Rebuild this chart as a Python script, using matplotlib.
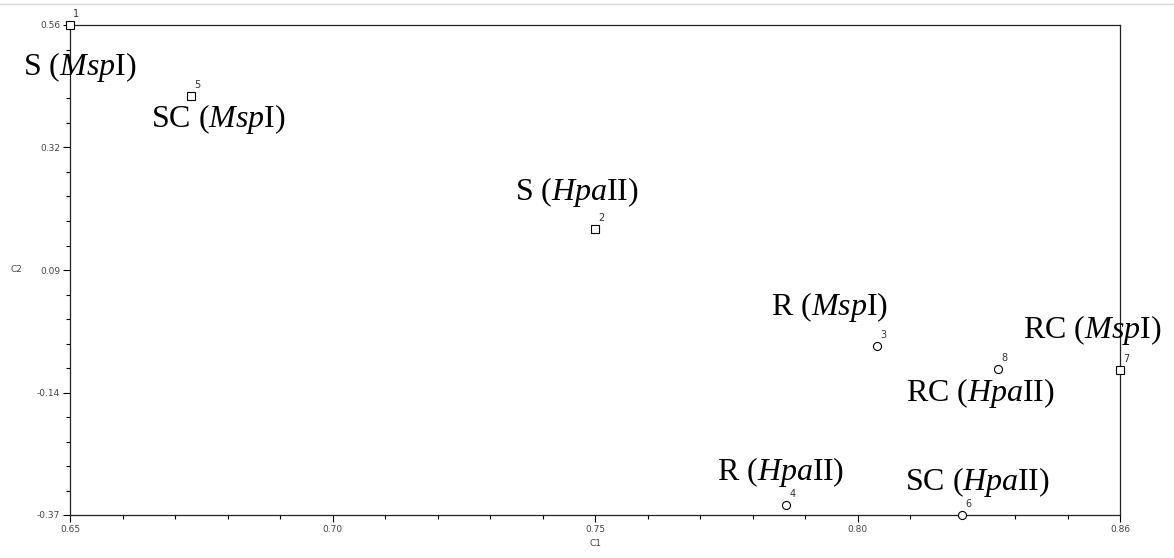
import matplotlib.pyplot as plt
import numpy as np
from matplotlib.ticker import AutoMinorLocator
from matplotlib.lines import Line2D

plt.rcParams['mathtext.fontset'] = 'custom'
plt.rcParams['mathtext.rm'] = 'Liberation Serif'
plt.rcParams['mathtext.it'] = 'Liberation Serif:italic'

# Sample coordinates (C1, C2)
ids = ['1', '2', '3', '4', '5', '6', '7', '8']
c1 = [0.647, 0.752, 0.8084, 0.7902, 0.6712, 0.8254, 0.857, 0.8326]
c2 = [0.5575, 0.1703, -0.0517, -0.3535, 0.4228, -0.3725, -0.0973, -0.0954]
markers = ['s', 's', 'o', 'o', 's', 'o', 's', 'o']
names = [r'S ($\mathit{Msp}$I)', r'S ($\mathit{Hpa}$II)', r'R ($\mathit{Msp}$I)',
         r'R ($\mathit{Hpa}$II)', r'SC ($\mathit{Msp}$I)', r'SC ($\mathit{Hpa}$II)',
         r'RC ($\mathit{Msp}$I)', r'RC ($\mathit{Hpa}$II)']

x_labels = ['0.65', '0.70', '0.75', '0.80', '0.86']
y_labels = ['-0.37', '-0.14', '0.09', '0.32', '0.56']

# label offsets (points) relative to each point
name_offsets = [(7, -30), (-13, 27), (-34, 28), (-4, 24), (20, -16.5), (11, 24), (-20, 29), (-13, -17)]

fig = plt.figure(figsize=(11.74, 5.58), dpi=100)
ax = fig.add_axes([70 / 1174, 43 / 558, 1050 / 1174, 490 / 558])

for i in range(len(ids)):
    ax.plot(c1[i], c2[i], marker=markers[i], markersize=5.8, markerfacecolor='white',
            markeredgecolor='black', markeredgewidth=0.8, linestyle='none', clip_on=False, zorder=5)
    ax.annotate(ids[i], (c1[i], c2[i]), xytext=(4.5, 8), textcoords='offset points',
                ha='center', va='center', fontsize=7, color='#333333')
    ax.annotate(names[i], (c1[i], c2[i]), xytext=name_offsets[i], textcoords='offset points',
                ha='center', va='center', fontsize=23, family='Liberation Serif', color='black')

xmin, xmax = 0.647, 0.857
ymin, ymax = -0.3725, 0.5575
ax.set_xlim(xmin, xmax)
ax.set_ylim(ymin, ymax)
ax.set_xticks(np.linspace(xmin, xmax, 5))
ax.set_xticklabels(x_labels)
ax.set_yticks(np.linspace(ymin, ymax, 5))
ax.set_yticklabels(y_labels)
ax.xaxis.set_minor_locator(AutoMinorLocator(5))
ax.yaxis.set_minor_locator(AutoMinorLocator(5))
ax.tick_params(which='major', length=5, width=0.8, labelsize=6.5, labelcolor='#444444', pad=2)
ax.tick_params(which='minor', length=3, width=0.8)

for s in ax.spines.values():
    s.set_linewidth(0.9)
    s.set_color('#222222')

ax.set_xlabel('C1', fontsize=6.5, color='#444444', labelpad=4)
ax.set_ylabel('C2', fontsize=6.5, color='#444444', rotation=0, labelpad=15, va='center')

fig.add_artist(Line2D([0, 1], [1 - 4 / 558, 1 - 4 / 558], color='#d8d8e0', linewidth=1))

fig.savefig('out.png', dpi=100)
